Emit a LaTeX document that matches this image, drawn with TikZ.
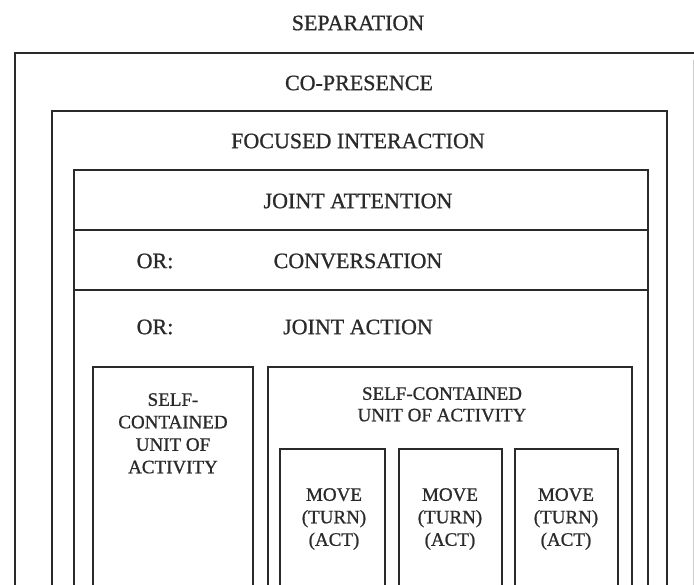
\documentclass[tikz,border=0pt]{standalone}
\usepackage{fontspec}
\setmainfont{Liberation Serif}[FakeBold=0.9]
\definecolor{ink}{HTML}{2A2A2A}
\begin{document}
\begin{tikzpicture}[x=1pt,y=-1pt,
  box/.style={draw=ink,line width=1.6pt},
  big/.style={font=\fontsize{22}{26}\selectfont,inner sep=0pt,text=ink},
  small/.style={font=\fontsize{19}{22.5}\selectfont,inner sep=0pt,align=center,text=ink,anchor=north}]
\useasboundingbox (0,0) rectangle (694,585);
\clip (0,0) rectangle (694,585);
% boxes (open at the bottom)
\draw[box] (15,590) -- (15,53) -- (700,53);
\draw[draw=black!20,line width=1pt] (693.5,60) -- (693.5,590);
\draw[box] (52,590) -- (52,111) -- (667,111) -- (667,590);
\draw[box] (74,590) -- (74,170) -- (648,170) -- (648,590);
\draw[box] (74,230) -- (648,230);
\draw[box] (74,290) -- (648,290);
\draw[box] (93,590) -- (93,367) -- (253,367) -- (253,590);
\draw[box] (268,590) -- (268,367) -- (632,367) -- (632,590);
\draw[box] (280,590) -- (280,449) -- (385,449) -- (385,590);
\draw[box] (399,590) -- (399,449) -- (502,449) -- (502,590);
\draw[box] (515,590) -- (515,449) -- (618,449) -- (618,590);
% texts
\node[big] (sep) at (358,23) {SEPARATION};
\node[big] (cop) at (359,83) {CO-PRESENCE};
\node[big] (foc) at (358,141) {FOCUSED INTERACTION};
\node[big] (att) at (358,201) {JOINT ATTENTION};
\node[big] (or1) at (155,261) {OR:};
\node[big] (con) at (358,261) {CONVERSATION};
\node[big] (or2) at (155,327) {OR:};
\node[big] (act) at (358,327) {JOINT ACTION};
\node[small] (scl) at (173,393) {SELF-\\CONTAINED\\UNIT OF\\ACTIVITY};
\node[small,font=\fontsize{19}{21.5}\selectfont] (scr) at (442,387) {SELF-CONTAINED\\UNIT OF ACTIVITY};
\node[small] (m1) at (334,488) {MOVE\\(TURN)\\(ACT)};
\node[small] (m2) at (450,488) {MOVE\\(TURN)\\(ACT)};
\node[small] (m3) at (566,488) {MOVE\\(TURN)\\(ACT)};
\end{tikzpicture}
\end{document}
